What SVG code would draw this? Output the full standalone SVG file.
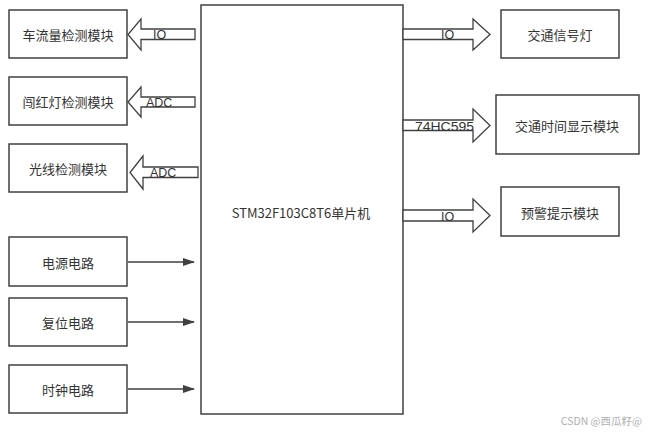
<svg xmlns="http://www.w3.org/2000/svg" width="651" height="433" viewBox="0 0 651 433">
<style>
.box{fill:#fff;stroke:#404040;stroke-width:1.5}
.t{font-family:"Noto Sans CJK SC","Microsoft YaHei",sans-serif;font-size:13px;fill:#333;text-anchor:middle;dominant-baseline:central}
.bl{font-family:"Liberation Sans","Noto Sans CJK SC",sans-serif;font-size:12.5px;fill:#333}
.ba{fill:#fff;stroke:#404040;stroke-width:1.3;stroke-linejoin:miter}
.ln{stroke:#404040;stroke-width:1.5;fill:none}
</style>
<defs>
<marker id="ah" markerWidth="12" markerHeight="8" refX="11" refY="4" orient="auto" markerUnits="userSpaceOnUse">
<path d="M0,0 L12,4 L0,8 Z" fill="#404040"/>
</marker>
</defs>
<rect width="651" height="433" fill="#fff"/>
<g id="mcu"><rect class="box" x="201" y="5" width="202" height="409"/><text class="t" x="301" y="212">STM32F103C8T6单片机</text></g>
<g id="n1"><rect class="box" x="9" y="10" width="118" height="48"/><text class="t" x="68" y="34">车流量检测模块</text></g>
<g id="n2"><rect class="box" x="9" y="77" width="118" height="48"/><text class="t" x="68" y="101">闯红灯检测模块</text></g>
<g id="n3"><rect class="box" x="9" y="144" width="118" height="48"/><text class="t" x="68" y="168">光线检测模块</text></g>
<g id="n4"><rect class="box" x="9" y="237" width="118" height="49"/><text class="t" x="68" y="262">电源电路</text></g>
<g id="n5"><rect class="box" x="9" y="298" width="118" height="48"/><text class="t" x="68" y="322">复位电路</text></g>
<g id="n6"><rect class="box" x="9" y="365" width="118" height="48"/><text class="t" x="68" y="389">时钟电路</text></g>
<g id="n7"><rect class="box" x="501" y="10" width="118" height="48"/><text class="t" x="560" y="34">交通信号灯</text></g>
<g id="n8"><rect class="box" x="496" y="95" width="143" height="59"/><text class="t" x="567" y="125">交通时间显示模块</text></g>
<g id="n9"><rect class="box" x="501" y="187" width="118" height="49"/><text class="t" x="560" y="212">预警提示模块</text></g>
<g id="connectors">
<path class="ba" d="M195,29 L141,29 L141,19 L128,34.5 L141,50 L141,39.5 L195,39.5 Z"/>
<text class="bl" x="153" y="39">IO</text>
<path class="ba" d="M195,97 L141,97 L141,87 L128,102 L141,117 L141,107 L195,107 Z"/>
<text class="bl" x="146" y="106.5">ADC</text>
<path class="ba" d="M198,167 L143,167 L143,156 L130,172.5 L143,189 L143,177.5 L198,177.5 Z"/>
<text class="bl" x="150" y="177">ADC</text>
<path class="ba" d="M403,29 L473,29 L473,19 L490,34.5 L473,50 L473,39.5 L403,39.5 Z"/>
<text class="bl" x="441" y="39">IO</text>
<path class="ba" d="M403,120 L473,120 L473,109 L490,125.5 L473,142 L473,130.5 L403,130.5 Z"/>
<text class="bl" x="415" y="130.5" textLength="59" lengthAdjust="spacingAndGlyphs">74HC595</text>
<path class="ba" d="M403,210 L473,210 L473,199 L490,215.5 L473,232 L473,221 L403,221 Z"/>
<text class="bl" x="441" y="220.5">IO</text>
<line class="ln" x1="128" y1="262" x2="194" y2="262" marker-end="url(#ah)"/>
<line class="ln" x1="128" y1="322" x2="194" y2="322" marker-end="url(#ah)"/>
<line class="ln" x1="128" y1="389" x2="194" y2="389" marker-end="url(#ah)"/>
</g>
<text x="642" y="420" font-family="Noto Sans CJK SC,sans-serif" font-size="10.5" fill="#b0b0b0" text-anchor="end" dominant-baseline="central">CSDN @西瓜籽@</text>
</svg>
